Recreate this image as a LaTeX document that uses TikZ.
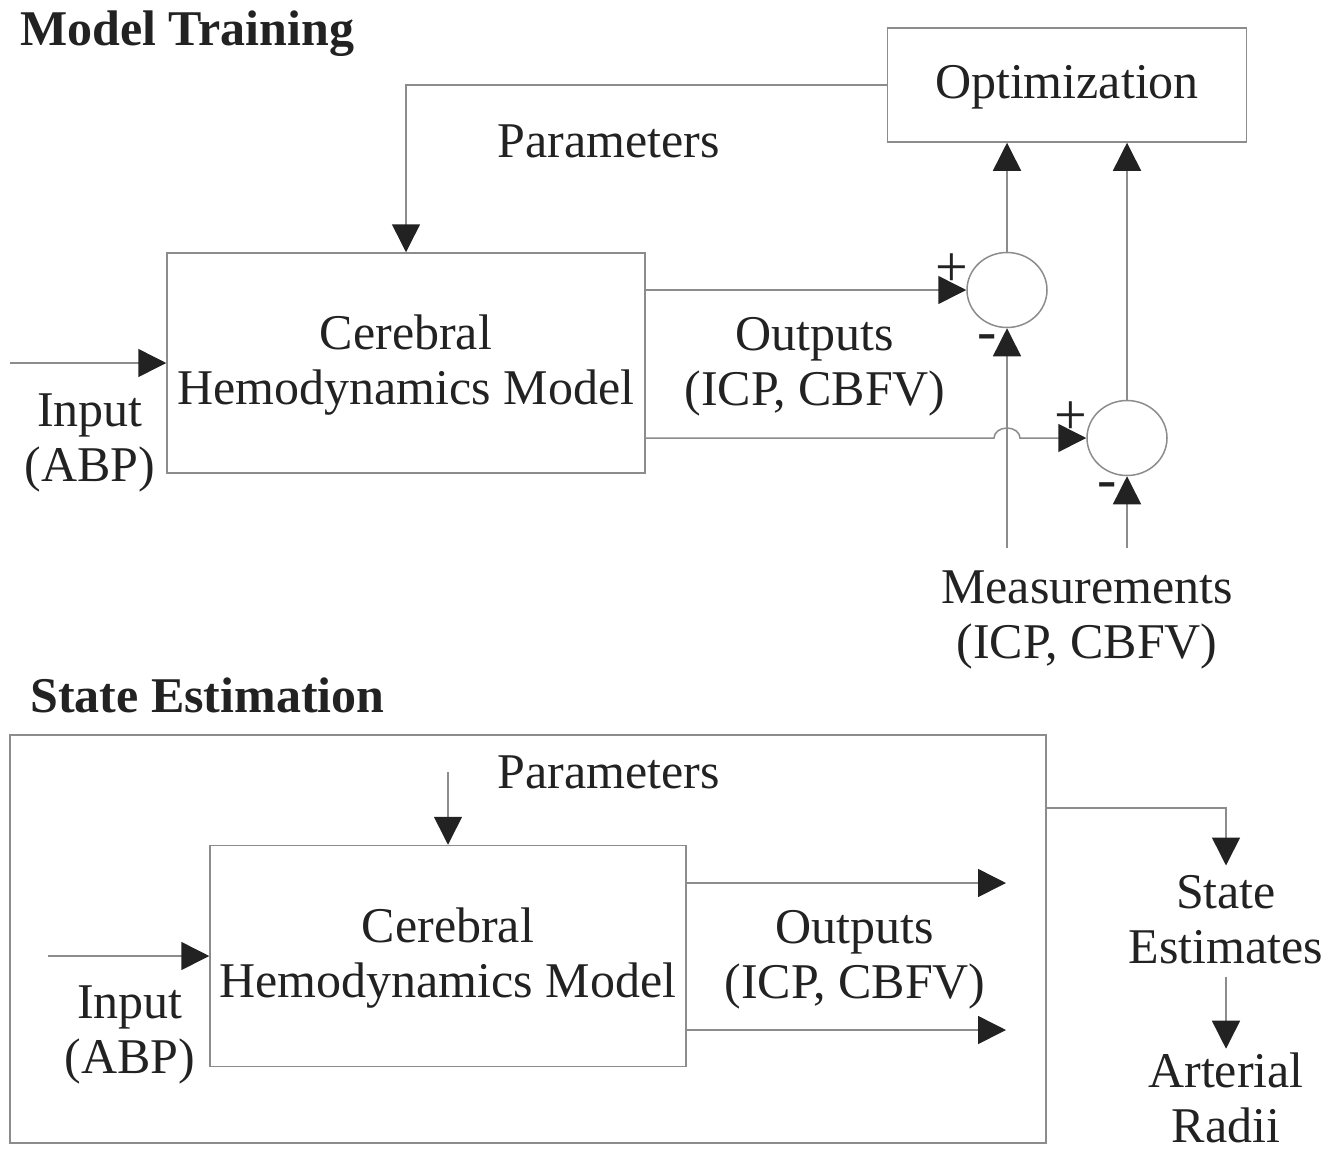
\documentclass[tikz,border=0pt]{standalone}
\usepackage{fontspec}
\setmainfont{Liberation Serif}
\usetikzlibrary{arrows.meta, shapes.geometric, positioning}
\definecolor{linegray}{HTML}{8C8C8C}
\definecolor{inkdark}{HTML}{222222}

\begin{document}
\begin{tikzpicture}[x=1pt, y=-1pt,
    txt/.style={align=center, text=inkdark, font=\fontsize{50}{55}\selectfont, inner sep=2pt},
    heading/.style={anchor=base west, text=inkdark, font=\fontsize{50}{55}\selectfont\bfseries, inner sep=0pt},
    box/.style={txt, draw=linegray, line width=1.5pt, text depth=6pt},
    sumnode/.style={ellipse, draw=linegray, line width=1.5pt, minimum width=80pt, minimum height=75pt, inner sep=0pt},
    sign/.style={text=inkdark, font=\fontsize{58}{60}\selectfont, inner sep=0pt},
    arr/.style={draw=linegray, line width=1.5pt, -{Triangle[length=28pt, width=28pt, color=inkdark]}}]
    \useasboundingbox (0,0) rectangle (1344,1152);

    % Model training
    \node[heading] (train) at (20,45) {Model Training};
    \node[box, minimum width=359pt, minimum height=114pt] (opt) at (1067,85) {Optimization};
    \node[box, minimum width=478pt, minimum height=220pt] (mod1) at (406,363) {Cerebral\\Hemodynamics Model};
    \node[sumnode] (sum1) at (1007,290) {};
    \node[sumnode] (sum2) at (1127,438) {};
    \node[txt] (par1) at (609,141) {Parameters};
    \node[txt] (out1) at (815,367) {Outputs\\(ICP, CBFV)};
    \node[txt] (inp1) at (90,443) {Input\\(ABP)};
    \node[txt] (meas) at (1087,620) {Measurements\\(ICP, CBFV)};
    \node[sign] (p1) at (952,270) {+};
    \node[sign] (m1) at (987,343) {-};
    \node[sign] (p2) at (1071,418) {+};
    \node[sign] (m2) at (1107,491) {-};
    \coordinate (in1) at (10,363);
    \coordinate (ms1) at (1007,548);
    \coordinate (ms2) at (1127,548);

    \draw[arr] (opt.west) -| (mod1.north);
    \draw[arr] (in1) -- (mod1.west);
    \draw[arr] (mod1.east |- sum1) -- (sum1.west);
    \draw[arr] (mod1.east |- sum2) -- ([xshift=-13pt]sum1 |- sum2)
        arc[start angle=180, end angle=0, x radius=13pt, y radius=10pt] -- (sum2.west);
    \draw[arr] (sum1.north) -- (sum1.north |- opt.south);
    \draw[arr] (sum2.north) -- (sum2.north |- opt.south);
    \draw[arr] (ms1) -- (sum1.south);
    \draw[arr] (ms2) -- (sum2.south);

    % State estimation
    \node[heading] (state) at (30,712) {State Estimation};
    \node[draw=linegray, line width=1.5pt, minimum width=1036pt, minimum height=408pt] (outer) at (528,939) {};
    \node[box, minimum width=476pt, minimum height=221pt] (mod2) at (448,956) {Cerebral\\Hemodynamics Model};
    \node[txt] (par2) at (609,772) {Parameters};
    \node[txt] (out2) at (855,960) {Outputs\\(ICP, CBFV)};
    \node[txt] (inp2) at (130,1035) {Input\\(ABP)};
    \node[txt] (est) at (1226,920) {State\\Estimates};
    \node[txt, inner sep=0pt] (rad) at (1226,1098) {Arterial\\Radii};
    \coordinate (pin2) at (448,772);
    \coordinate (in2) at (48,956);
    \coordinate (o1) at (1006,883);
    \coordinate (o2) at (1006,1030);
    \coordinate (se) at (1046,808);

    \draw[arr] (pin2) -- (mod2.north);
    \draw[arr] (in2) -- (mod2.west);
    \draw[arr] (mod2.east |- o1) -- (o1);
    \draw[arr] (mod2.east |- o2) -- (o2);
    \draw[arr, shorten >=8pt] (se) -| (est.north);
    \draw[arr, shorten <=10pt, shorten >=4pt] (est.south) -- (rad.north);
\end{tikzpicture}
\end{document}
